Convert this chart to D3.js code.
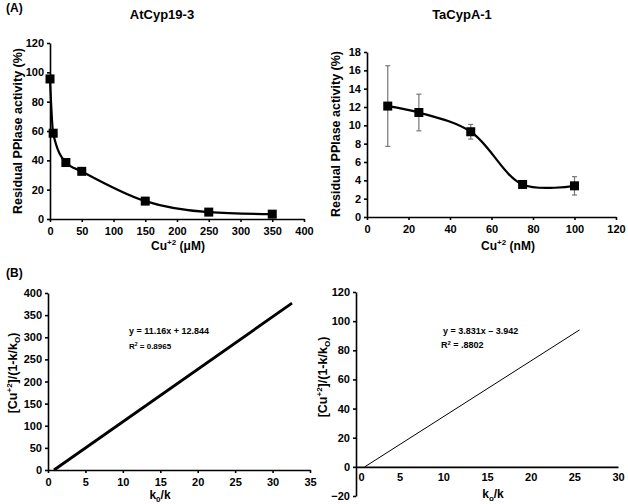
<!DOCTYPE html>
<html>
<head>
<meta charset="utf-8">
<script src="https://cdn.jsdelivr.net/npm/d3@7"></script>
<style>
  body { margin: 0; background: #fff; }
  svg { font-family: "Liberation Sans", Arial, sans-serif; font-weight: bold; }
  .axis path, .axis line { stroke: #000; stroke-width: 1.6; }
  .axis text { font-size: 11px; font-weight: bold; fill: #000; }
</style>
</head>
<body>
<div class="chart"></div>
<script>
// panel A left: AtCyp19-3
const atConc = [0, 5, 25, 50, 150, 250, 350];
const atAct = [95.5, 58.5, 38.5, 32.5, 12.2, 4.7, 3.3];
const atTicksX = [0, 50, 100, 150, 200, 250, 300, 350, 400];
const atTicksY = [0, 20, 40, 60, 80, 100, 120];

// panel A right: TaCypA-1
const taConc = [10, 25, 50, 75, 100];
const taAct = [12.1, 11.4, 9.3, 3.55, 3.4];
const taErr = [4.4, 2.0, 0.8, 0.2, 1.0];
const taTicksX = [0, 20, 40, 60, 80, 100, 120];
const taTicksY = [0, 2, 4, 6, 8, 10, 12, 14, 16, 18];

// panel B: linear fits
const fitAtX = [0.8, 32.6];
const fitAtY = [0, 377];
const fitAtTicksX = [0, 5, 10, 15, 20, 25, 30, 35];
const fitAtTicksY = [0, 50, 100, 150, 200, 250, 300, 350, 400];

const fitTaX = [1.0, 25.6];
const fitTaY = [0, 94];
const fitTaTicksX = [0, 5, 10, 15, 20, 25, 30];
const fitTaTicksY = [-20, 0, 20, 40, 60, 80, 100, 120];

const svg = d3.select(".chart").append("svg")
  .attr("width", 628)
  .attr("height", 504);

function axes(x, y, ticksX, ticksY, xAt) {
  const yPos = xAt === undefined ? y.range()[0] : y(xAt);
  svg.append("g")
    .attr("class", "axis")
    .attr("transform", `translate(0,${yPos})`)
    .call(d3.axisBottom(x).tickValues(ticksX).tickSize(3).tickPadding(5).tickSizeOuter(0));
  svg.append("g")
    .attr("class", "axis")
    .attr("transform", `translate(${x.range()[0]},0)`)
    .call(d3.axisLeft(y).tickValues(ticksY).tickSize(3).tickPadding(3).tickSizeOuter(0));
}

/* (A) left */
let x = d3.scaleLinear().domain([0, 400]).range([50, 304]);
let y = d3.scaleLinear().domain([0, 120]).range([219, 43]);
axes(x, y, atTicksX, atTicksY);

const atData = atConc.map((c, i) => ({c: c, v: atAct[i]}));
svg.append("path")
  .datum(atData)
  .attr("fill", "none")
  .attr("stroke", "#000")
  .attr("stroke-width", 2.2)
  .attr("d", d3.line().x(d => x(d.c)).y(d => y(d.v)).curve(d3.curveMonotoneX));
svg.selectAll(".sqA")
  .data(atData)
  .enter().append("rect")
  .attr("x", d => x(d.c) - 4.5)
  .attr("y", d => y(d.v) - 4.5)
  .attr("width", 9).attr("height", 9)
  .attr("fill", "#000");

svg.append("text").attr("x", 162).attr("y", 19).attr("text-anchor", "middle")
  .attr("font-size", 13).text("AtCyp19-3");
svg.append("text").attr("x", 6).attr("y", 12).attr("font-size", 12).text("(A)");
svg.append("text")
  .attr("transform", "translate(22,131) rotate(-90)")
  .attr("text-anchor", "middle").attr("font-size", 12.5)
  .text("Residual PPlase activity (%)");
let t = svg.append("text").attr("x", 178).attr("y", 250).attr("text-anchor", "middle").attr("font-size", 12);
t.append("tspan").text("Cu");
t.append("tspan").attr("dy", -5).attr("font-size", 8).text("+2");
t.append("tspan").attr("dy", 5).text(" (\u03bcM)");

/* (A) right */
x = d3.scaleLinear().domain([0, 120]).range([367, 616]);
y = d3.scaleLinear().domain([0, 18]).range([217, 52]);
axes(x, y, taTicksX, taTicksY);

const taData = taConc.map((c, i) => ({c: c, v: taAct[i], e: taErr[i]}));
const eb = svg.append("g").attr("stroke", "#777").attr("stroke-width", 1.2);
taData.forEach(d => {
  eb.append("line").attr("x1", x(d.c)).attr("x2", x(d.c))
    .attr("y1", y(d.v - d.e)).attr("y2", y(d.v + d.e));
  [d.v - d.e, d.v + d.e].forEach(v => {
    eb.append("line").attr("x1", x(d.c) - 2.5).attr("x2", x(d.c) + 2.5)
      .attr("y1", y(v)).attr("y2", y(v));
  });
});
svg.append("path")
  .datum(taData)
  .attr("fill", "none")
  .attr("stroke", "#000")
  .attr("stroke-width", 2.2)
  .attr("d", d3.line().x(d => x(d.c)).y(d => y(d.v)).curve(d3.curveCatmullRom.alpha(0.5)));
svg.selectAll(".sqB")
  .data(taData)
  .enter().append("rect")
  .attr("x", d => x(d.c) - 4.5)
  .attr("y", d => y(d.v) - 4.5)
  .attr("width", 9).attr("height", 9)
  .attr("fill", "#000");

svg.append("text").attr("x", 462).attr("y", 19).attr("text-anchor", "middle")
  .attr("font-size", 13).text("TaCypA-1");
svg.append("text")
  .attr("transform", "translate(340,134) rotate(-90)")
  .attr("text-anchor", "middle").attr("font-size", 12.5)
  .text("Residual PPlase activity (%)");
t = svg.append("text").attr("x", 508).attr("y", 250).attr("text-anchor", "middle").attr("font-size", 12);
t.append("tspan").text("Cu");
t.append("tspan").attr("dy", -5).attr("font-size", 8).text("+2");
t.append("tspan").attr("dy", 5).text(" (nM)");

/* (B) left */
x = d3.scaleLinear().domain([0, 35]).range([48, 310]);
y = d3.scaleLinear().domain([0, 400]).range([470, 293]);
axes(x, y, fitAtTicksX, fitAtTicksY);
svg.append("line")
  .attr("x1", x(fitAtX[0])).attr("y1", y(fitAtY[0]))
  .attr("x2", x(fitAtX[1])).attr("y2", y(fitAtY[1]))
  .attr("stroke", "#000").attr("stroke-width", 2.8);

svg.append("text").attr("x", 6).attr("y", 277).attr("font-size", 12).text("(B)");
svg.append("text").attr("x", 129).attr("y", 334).attr("font-size", 9).text("y = 11.16x + 12.844");
t = svg.append("text").attr("x", 129).attr("y", 349).attr("font-size", 8);
t.append("tspan").text("R");
t.append("tspan").attr("dy", -3).attr("font-size", 5).text("2");
t.append("tspan").attr("dy", 3).text(" = 0.8965");

function kLabel(cx, cy) {
  const lab = svg.append("text")
    .attr("transform", `translate(${cx},${cy}) rotate(-90)`)
    .attr("text-anchor", "middle").attr("font-size", 12.5);
  lab.append("tspan").text("[Cu");
  lab.append("tspan").attr("dy", -5).attr("font-size", 8).text("+2");
  lab.append("tspan").attr("dy", 5).text("]/(1-k/k");
  lab.append("tspan").attr("dy", 3).attr("font-size", 8).text("O");
  lab.append("tspan").attr("dy", -3).text(")");
}
kLabel(17, 373);
t = svg.append("text").attr("x", 160).attr("y", 499).attr("text-anchor", "middle").attr("font-size", 12);
t.append("tspan").text("k");
t.append("tspan").attr("dy", 3).attr("font-size", 8).text("0");
t.append("tspan").attr("dy", -3).text("/k");

/* (B) right */
x = d3.scaleLinear().domain([0, 30]).range([356, 618]);
y = d3.scaleLinear().domain([-20, 120]).range([496, 292]);
svg.append("g")
  .attr("class", "axis")
  .attr("transform", `translate(0,${y(0)})`)
  .call(d3.axisBottom(x).tickValues(fitTaTicksX).tickSize(0).tickPadding(6).tickSizeOuter(0))
  .call(g => g.select(".domain").attr("stroke-width", 2.6))
  .call(g => g.selectAll(".tick text").attr("dx", d => d === 0 ? 5 : 0));
svg.append("g")
  .attr("class", "axis")
  .attr("transform", `translate(${x(0)},0)`)
  .call(d3.axisLeft(y).tickValues(fitTaTicksY).tickSize(3).tickPadding(3).tickSizeOuter(0))
  .call(g => g.select(".domain").attr("stroke-width", 2.6));
svg.append("line")
  .attr("x1", x(fitTaX[0])).attr("y1", y(fitTaY[0]))
  .attr("x2", x(fitTaX[1])).attr("y2", y(fitTaY[1]))
  .attr("stroke", "#000").attr("stroke-width", 1);

svg.append("text").attr("x", 443).attr("y", 334).attr("font-size", 9).text("y = 3.831x \u2013 3.942");
t = svg.append("text").attr("x", 441).attr("y", 348).attr("font-size", 9);
t.append("tspan").text("R");
t.append("tspan").attr("dy", -3).attr("font-size", 6).text("2");
t.append("tspan").attr("dy", 3).text(" = .8802");
kLabel(327, 377);
t = svg.append("text").attr("x", 493).attr("y", 498).attr("text-anchor", "middle").attr("font-size", 12);
t.append("tspan").text("k");
t.append("tspan").attr("dy", 3).attr("font-size", 8).text("o");
t.append("tspan").attr("dy", -3).text("/k");
</script>
</body>
</html>
